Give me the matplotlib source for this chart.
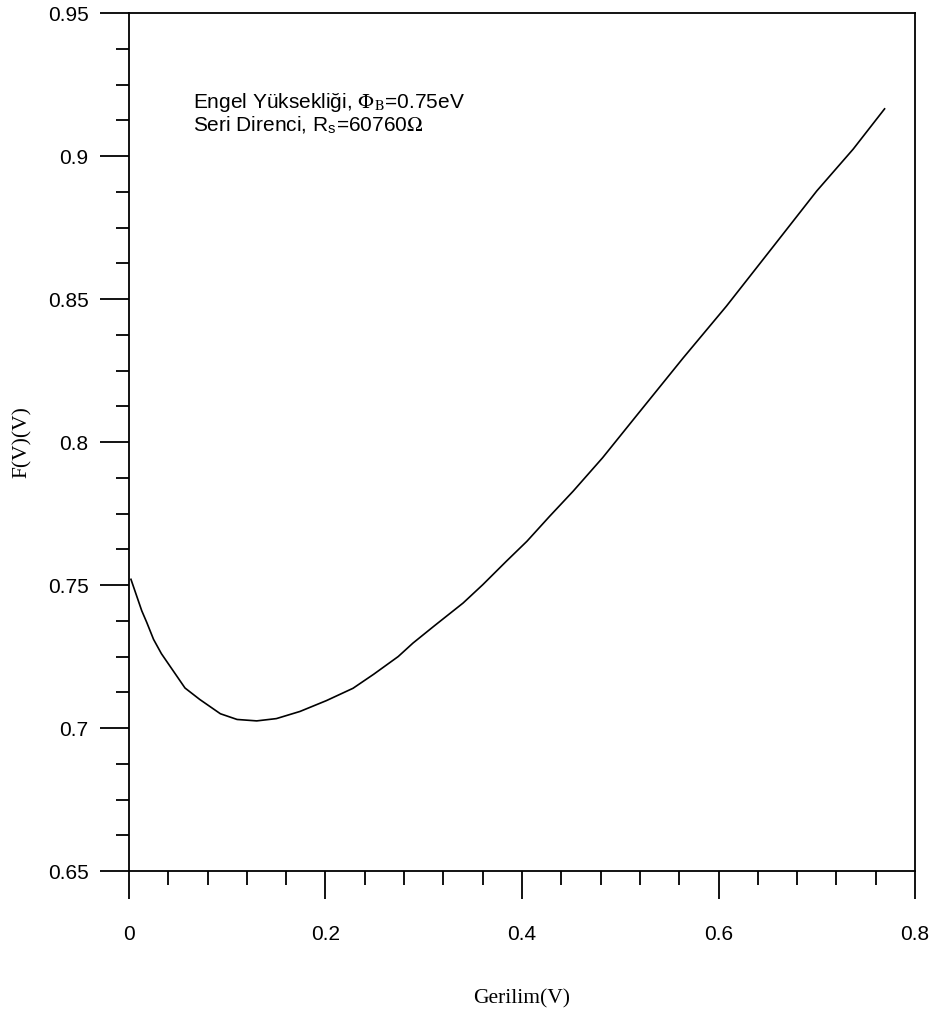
import matplotlib
matplotlib.use('Agg')
import matplotlib.pyplot as plt
from matplotlib.ticker import MultipleLocator

plt.rcParams['mathtext.fontset'] = 'stix'

# values
gerilim = [0.002, 0.013, 0.018, 0.025, 0.033, 0.045, 0.057, 0.072, 0.093,
           0.110, 0.130, 0.150, 0.174, 0.201, 0.228, 0.249, 0.274, 0.289,
           0.311, 0.340, 0.360, 0.384, 0.405, 0.428, 0.452, 0.482, 0.516,
           0.564, 0.608, 0.656, 0.700, 0.737, 0.769]
fv = [0.752, 0.741, 0.737, 0.731, 0.726, 0.720, 0.714, 0.710, 0.705,
      0.703, 0.7025, 0.7033, 0.7058, 0.7096, 0.7139, 0.7188, 0.725, 0.7297,
      0.7358, 0.7437, 0.7501, 0.7583, 0.7653, 0.774, 0.7828, 0.7945, 0.809,
      0.8294, 0.8475, 0.8685, 0.8878, 0.9024, 0.9165]

x_ticks = [0, 0.2, 0.4, 0.6, 0.8]
x_labels = ['0', '0.2', '0.4', '0.6', '0.8']
y_ticks = [0.65, 0.7, 0.75, 0.8, 0.85, 0.9, 0.95]
y_labels = ['0.65', '0.7', '0.75', '0.8', '0.85', '0.9', '0.95']

fig = plt.figure(figsize=(9.34, 10.19), dpi=100)
ax = fig.add_axes([0.1381, 0.1452, 0.8416, 0.8420])

ax.plot(gerilim, fv, color='k', linewidth=1.2)

ax.set_xlim(0, 0.8)
ax.set_ylim(0.65, 0.95)
ax.set_xticks(x_ticks)
ax.set_xticklabels(x_labels)
ax.set_yticks(y_ticks)
ax.set_yticklabels(y_labels)
ax.xaxis.set_minor_locator(MultipleLocator(0.04))
ax.yaxis.set_minor_locator(MultipleLocator(0.0125))

for s in ax.spines.values():
    s.set_linewidth(1.3)

ax.tick_params(which='major', direction='out', width=1.3, labelsize=15,
               top=False, right=False)
ax.tick_params(axis='x', which='major', length=20.5, pad=18)
ax.tick_params(axis='y', which='major', length=21, pad=8)
ax.tick_params(axis='x', which='minor', direction='out', length=10, width=1.3)
ax.tick_params(axis='y', which='minor', direction='out', length=9.5, width=1.3)
for lab in ax.get_xticklabels() + ax.get_yticklabels():
    lab.set_family('Liberation Sans')

ax.set_xlabel('Gerilim(V)', family='Liberation Serif', fontsize=15.5)
ax.set_ylabel('F(V)(V)', family='Liberation Serif', fontsize=15.5)
ax.xaxis.set_label_coords(0.5, -0.138)
ax.yaxis.set_label_coords(-0.124, 0.5)

ax.text(0.0814, 0.889, 'Engel Yüksekliği, $\\Phi_{\\mathrm{B}}$=0.75eV',
        transform=ax.transAxes, family='Liberation Sans', fontsize=15,
        va='baseline')
ax.text(0.0814, 0.8617, 'Seri Direnci, R$_\\mathregular{s}$=60760$\\Omega$',
        transform=ax.transAxes, family='Liberation Sans', fontsize=15,
        va='baseline')

fig.savefig('out.png', dpi=100)
